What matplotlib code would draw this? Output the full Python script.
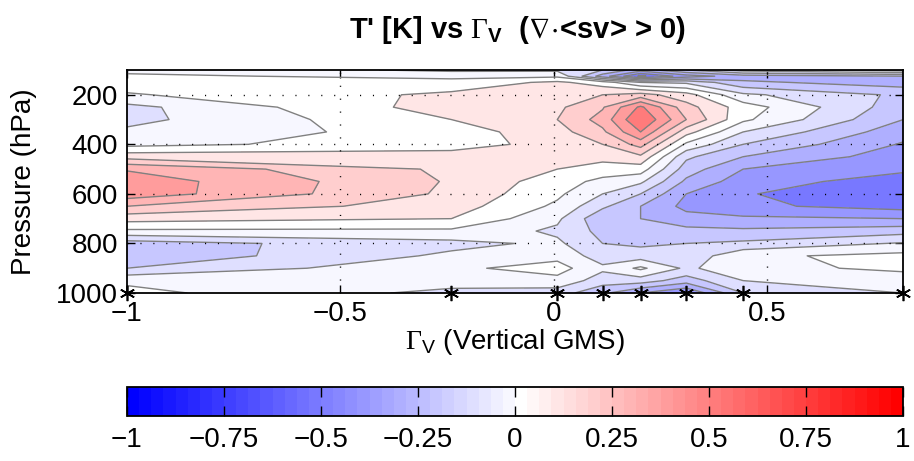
import numpy as np
import matplotlib
matplotlib.use("Agg")
import matplotlib.pyplot as plt
from matplotlib.colors import ListedColormap, Normalize
from matplotlib.colorbar import ColorbarBase

plt.rcParams['font.family'] = ['Liberation Sans', 'DejaVu Sans']
plt.rcParams['mathtext.fontset'] = 'custom'
plt.rcParams['mathtext.rm'] = 'Liberation Serif'
plt.rcParams['mathtext.sf'] = 'Liberation Sans'
plt.rcParams['mathtext.bf'] = 'Liberation Sans:bold'
plt.rcParams['mathtext.fallback'] = 'stix'

# ---- data ----
gms_bins = [-1.0, -0.24, 0.008, 0.114, 0.203, 0.31, 0.443, 0.818]
pressure = [100, 125, 150, 200, 250, 300, 350, 400, 450, 500, 550,
            600, 650, 700, 750, 800, 850, 900, 950, 1000]
# T' [K]; rows = pressure levels, columns = GMS bins
t_anom = [
    [-0.03, -0.12, -0.12, -0.20, -0.35, -0.20, -0.05,  0.05],   # 100
    [ 0.02, -0.03, -0.02, -0.35, -0.62, -0.45, -0.35, -0.30],   # 125
    [ 0.05,  0.04,  0.12,  0.05, -0.10, -0.12, -0.28, -0.35],   # 150
    [-0.01,  0.12,  0.15,  0.20,  0.24,  0.14, -0.08, -0.22],   # 200
    [-0.13,  0.15,  0.18,  0.29,  0.52,  0.24,  0.05, -0.26],   # 250
    [-0.13,  0.10,  0.20,  0.34,  0.60,  0.30,  0.02, -0.30],   # 300
    [-0.08,  0.05,  0.16,  0.28,  0.50,  0.14, -0.10, -0.36],   # 350
    [-0.03,  0.05,  0.14,  0.20,  0.34, -0.02, -0.20, -0.41],   # 400
    [ 0.16,  0.15,  0.13,  0.13,  0.18, -0.18, -0.30, -0.45],   # 450
    [ 0.39,  0.18,  0.10,  0.06,  0.05, -0.25, -0.40, -0.48],   # 500
    [ 0.46,  0.19,  0.05, -0.03, -0.08, -0.32, -0.45, -0.55],   # 550
    [ 0.46,  0.18,  0.02, -0.10, -0.20, -0.40, -0.49, -0.60],   # 600
    [ 0.30,  0.15, -0.02, -0.18, -0.30, -0.43, -0.48, -0.54],   # 650
    [ 0.14,  0.10, -0.08, -0.28, -0.30, -0.36, -0.38, -0.40],   # 700
    [-0.02, -0.02, -0.12, -0.23, -0.27, -0.27, -0.28, -0.24],   # 750
    [-0.25, -0.13, -0.08, -0.20, -0.22, -0.20, -0.18, -0.09],   # 800
    [-0.28, -0.08, -0.03, -0.15, -0.15, -0.17, -0.02,  0.03],   # 850
    [-0.20, -0.02,  0.04, -0.08,  0.02, -0.12, -0.03,  0.02],   # 900
    [-0.02, -0.05, -0.03, -0.15, -0.15, -0.25, -0.10, -0.05],   # 950
    [ 0.03, -0.13, -0.15, -0.28, -0.40, -0.50, -0.20, -0.10],   # 1000
]
contour_levels = [round(v, 1) for v in np.arange(-1.0, 1.01, 0.1)]
cbar_ticks = [-1, -0.75, -0.5, -0.25, 0, 0.25, 0.5, 0.75, 1]
cbar_ticklabels = ['\u22121', '\u22120.75', '\u22120.5', '\u22120.25', '0',
                   '0.25', '0.5', '0.75', '1']
x_ticks = [-1, -0.5, 0, 0.5]
x_ticklabels = ['\u22121', '\u22120.5', '0', '0.5']
y_ticks = [200, 400, 600, 800, 1000]

# ---- colormap: 64 blocks blue-white-red ----
blue = [(k / 32, k / 32, 1.0) for k in range(32)]
red = [(1.0, 1 - j / 31, 1 - j / 31) for j in range(32)]
cmap_colors = blue + red
cmap = ListedColormap(cmap_colors)


def block_color(v):
    idx = int(np.floor((v + 1) / 2 * 64 + 1e-9))
    idx = min(max(idx, 0), 63)
    return cmap_colors[idx]


band_colors = []
for a, b in zip(contour_levels[:-1], contour_levels[1:]):
    if a >= -1e-9:
        band_colors.append(block_color(a))
    else:
        band_colors.append(block_color(b - 1e-6))

X = np.array(gms_bins)
P = np.array(pressure)
Z = np.array(t_anom)

fig = plt.figure(figsize=(9.14, 4.61), dpi=100)
ax = fig.add_axes([126.7 / 914, 1 - 293 / 461, (903.3 - 126.7) / 914, 223 / 461])

ax.contourf(X, P, Z, levels=contour_levels, colors=band_colors)
ax.contour(X, P, Z, levels=contour_levels, colors='#808080', linewidths=1.0,
           linestyles='solid')

ax.set_xlim(-1, 0.818)
ax.set_ylim(1000, 100)
ax.set_xticks(x_ticks)
ax.set_xticklabels(x_ticklabels)
ax.set_yticks(y_ticks)
ax.tick_params(direction='in', length=6, width=1, top=True, right=True,
               labelsize=20, pad=6)
for s in ax.spines.values():
    s.set_linewidth(1.3)

for xv in x_ticks[1:]:
    ax.axvline(xv, color='black', linestyle=(0, (0.8, 8.5)), linewidth=1.0, zorder=3)
for yv in y_ticks[:-1]:
    ax.axhline(yv, color='black', linestyle=(0, (0.8, 8.5)), linewidth=1.0, zorder=3)

ax.plot(gms_bins, [1000] * len(gms_bins), linestyle='none', marker=(6, 2, 0),
        markersize=11, markeredgewidth=1.2, color='black', clip_on=False, zorder=5)

ax.set_ylabel('Pressure (hPa)', fontsize=20)
ax.yaxis.set_label_coords(-0.115, 0.5)
ax.set_xlabel(r'$\Gamma_{\mathsf{V}}$ (Vertical GMS)', fontsize=20, labelpad=0)

fig.text(0.566, 0.935, r"T' [K] vs $\Gamma_{\mathbf{V}}$  ($\nabla\!\cdot\!$<sv> > 0)",
         ha='center', va='center', fontsize=21, fontweight='bold')

cax = fig.add_axes([127 / 914, 1 - 416 / 461, (903 - 127) / 914, 29 / 461])
cb = ColorbarBase(cax, cmap=cmap, norm=Normalize(-1, 1), orientation='horizontal')
cb.set_ticks(cbar_ticks)
cb.set_ticklabels(cbar_ticklabels)
cax.tick_params(direction='in', length=7, width=1, top=True, bottom=True,
                labelsize=20, pad=8)
cb.outline.set_linewidth(1.3)

fig.savefig('out.png', dpi=100)
